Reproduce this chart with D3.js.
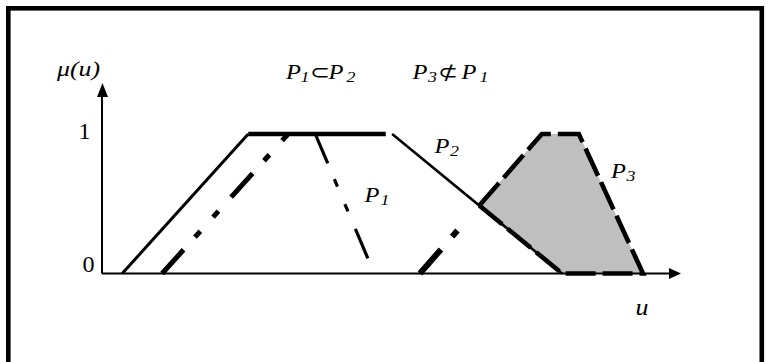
<!DOCTYPE html>
<html>
<head>
<meta charset="utf-8">
<script src="https://cdn.jsdelivr.net/npm/d3@7"></script>
</head>
<body style="margin:0;background:#fff">
<svg id="chart" width="770" height="362" style="display:block"></svg>
<script>
// ---- data (u values of trapezoid corners: foot, shoulder, shoulder, foot) ----
const categories = ["P1", "P2", "P3"];
const p1 = [1.04, 3.22, 3.69, 4.71];
const p2 = [0.35, 2.53, 5.02, 7.96];
const p3 = [5.50, 7.61, 8.25, 9.36];
const p2PlateauEnd = 4.91;          // drawn end of P2's top segment
const muTicks = [0, 1];
const muTickLabels = ["0", "1"];
const uMax = 10;                    // axis arrow tip
const muMax = 1.365;                // axis arrow tip

const SERIF = '"Liberation Serif"';
const SX = 1.19;                    // horizontal stretch of the lettering

const svg = d3.select("#chart");
const x = d3.scaleLinear().domain([0, uMax]).range([102, 680]);
const y = d3.scaleLinear().domain([0, 1]).range([273.5, 134]);
const line = d3.line().x(d => x(d[0])).y(d => y(d[1]));

// frame (no bottom edge visible)
svg.append("rect").attr("x", 8.3).attr("y", 8.3).attr("width", 753.5).attr("height", 420)
  .attr("fill", "none").attr("stroke", "#000").attr("stroke-width", 4.6);

// intersection of P2 falling edge with P3 rising edge
const uI = (p2[3] * (p3[1] - p3[0]) + p3[0] * (p2[3] - p2[2])) / ((p3[1] - p3[0]) + (p2[3] - p2[2]));
const muI = (p2[3] - uI) / (p2[3] - p2[2]);

const shaded = [[uI, muI], [p3[1], 1], [p3[2], 1], [p3[3], 0], [p2[3], 0], [uI, muI]];

// gray region fill
svg.append("path").attr("d", line(shaded)).attr("fill", "#bfbfbf").attr("stroke", "none");

// axes
svg.append("line").attr("x1", x(0)).attr("y1", y(0)).attr("x2", x(0)).attr("y2", y(muMax) + 10)
  .attr("stroke", "#000").attr("stroke-width", 2);
svg.append("line").attr("x1", x(0)).attr("y1", y(0)).attr("x2", x(uMax) - 10).attr("y2", y(0))
  .attr("stroke", "#000").attr("stroke-width", 2);
svg.append("path")
  .attr("d", `M${x(0) + 0.5},${y(muMax)} L${x(0) + 6},${y(muMax) + 14} L${x(0) - 5},${y(muMax) + 14} Z`)
  .attr("fill", "#000");
svg.append("path")
  .attr("d", `M${x(uMax) + 1},${y(0)} L${x(uMax) - 11},${y(0) - 5.5} L${x(uMax) - 11},${y(0) + 5.5} Z`)
  .attr("fill", "#000");

// P2 (solid)
svg.append("path").attr("d", line([[p2[0], 0], [p2[1], 1]]))
  .attr("fill", "none").attr("stroke", "#000").attr("stroke-width", 3);
svg.append("path").attr("d", line([[p2[1], 1], [p2PlateauEnd, 1]]))
  .attr("fill", "none").attr("stroke", "#000").attr("stroke-width", 4.5);
svg.append("path").attr("d", line([[p2[2], 1], [p2[3], 0]]))
  .attr("fill", "none").attr("stroke", "#000").attr("stroke-width", 2.6);

// P1 (dash-dot-dot)
const dashP = "32,17,8,19,8,19";
svg.append("path").attr("d", line([[p1[0], 0], [p1[1], 1]]))
  .attr("fill", "none").attr("stroke", "#000").attr("stroke-width", 5).attr("stroke-dasharray", dashP);
svg.append("path").attr("d", line([[p1[2], 1], [p1[3], 0]]))
  .attr("fill", "none").attr("stroke", "#000").attr("stroke-width", 3.2).attr("stroke-dasharray", dashP);

// P3 lower rising edge (dash-dot)
svg.append("path").attr("d", line([[p3[0], 0], [uI, muI]]))
  .attr("fill", "none").attr("stroke", "#000").attr("stroke-width", 6).attr("stroke-dasharray", "32,17,8,60");

// outline of shaded region (thick dashes)
svg.append("path").attr("d", line(shaded))
  .attr("fill", "none").attr("stroke", "#000").attr("stroke-width", 4.6)
  .attr("stroke-dasharray", "30,7");

// text helper: stretched serif lettering
function txt(px, py, str, size, italic, sx) {
  return svg.append("text")
    .attr("transform", `translate(${px},${py}) scale(${sx},1)`)
    .attr("x", 0).attr("y", 0)
    .style("font-family", SERIF).style("font-size", size + "px")
    .style("font-style", italic ? "italic" : "normal")
    .text(str);
}

// tick labels
muTicks.forEach((t, i) => {
  txt(t === 1 ? 78.5 : 82.5, y(t) + (t === 1 ? 4.5 : -1.5), muTickLabels[i], 23, false, 1.05);
});

// axis titles
txt(57, 75.5, "μ(u)", 21.5, true, 1.2);
txt(635.5, 315, "u", 24, true, 1.08);

// subscripted label helper
function pLabel(px, base, sub, subX) {
  txt(px, base, "P", 20.5, true, SX);
  txt(subX, base + 3.8, sub, 15, true, SX);
}

// relation titles
pLabel(286, 78.5, "1", 300.5);
txt(309.5, 79, "⊂", 20, false, SX);
pLabel(328.5, 78.5, "2", 346.5);

pLabel(412.5, 78.5, "3", 428);
txt(438, 79, "⊄", 20, false, SX);
pLabel(461.5, 78.5, "1", 479.5);

// curve labels
pLabel(434.5, 152.5, categories[1].slice(1), 450);
pLabel(364.5, 201.5, categories[0].slice(1), 380.5);
pLabel(611, 177.5, categories[2].slice(1), 626.5);
</script>
</body>
</html>
